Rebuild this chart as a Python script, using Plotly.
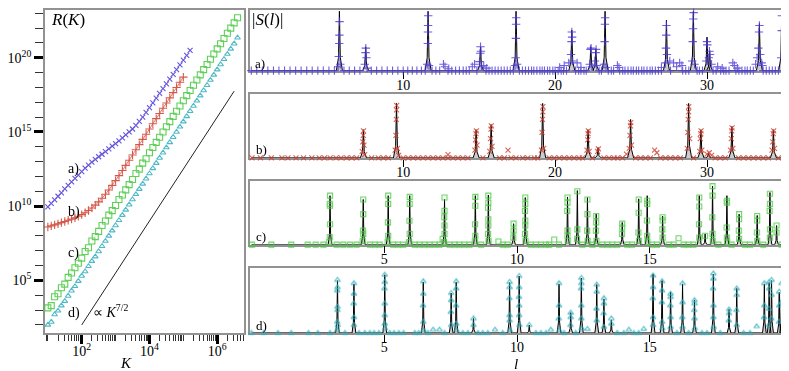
import plotly.graph_objects as go

# page body keeps its default 8px margin, so the figure is placed 8px in
OX, OY = 8, 8
FW, FH = 781, 363

# ---------------- left panel: R(K) (decimal logs) ----------------
logK = [1.0, 1.1, 1.2, 1.3, 1.4, 1.5, 1.6, 1.7, 1.8, 1.9,
        2.0, 2.1, 2.2, 2.3, 2.4, 2.5, 2.6, 2.7, 2.8, 2.9,
        3.0, 3.1, 3.2, 3.3, 3.4, 3.5, 3.6, 3.7, 3.8, 3.9,
        4.0, 4.1, 4.2, 4.3, 4.4, 4.5, 4.6, 4.7, 4.8, 4.9,
        5.0, 5.1, 5.2, 5.3, 5.4, 5.5, 5.6, 5.7, 5.8, 5.9,
        6.0, 6.1, 6.2, 6.3, 6.4, 6.5, 6.6]
logR_a = [9.95, 10.19, 10.43, 10.67, 10.9, 11.16, 11.4, 11.64, 11.88, 12.1,
          12.33, 12.56, 12.77, 12.97, 13.15, 13.33, 13.5, 13.68, 13.86, 14.04,
          14.22, 14.4, 14.6, 14.8, 15.0, 15.2, 15.45, 15.72, 16.0, 16.32,
          16.64, 16.96, 17.28, 17.6, 17.92, 18.24, 18.56, 18.88, 19.2, 19.52,
          19.84, 20.16, 20.5]
logR_b = [8.6, 8.67, 8.74, 8.81, 8.89, 8.97, 9.05, 9.13, 9.22, 9.32,
          9.43, 9.56, 9.71, 9.88, 10.07, 10.29, 10.53, 10.8, 11.09, 11.4,
          11.72, 12.06, 12.4, 12.75, 13.1, 13.45, 13.8, 14.15, 14.5, 14.85,
          15.2, 15.55, 15.9, 16.25, 16.6, 16.95, 17.3, 17.65, 18.0, 18.35,
          18.7]
logR_c = [3.15, 3.3, 3.9, 4.1, 4.5, 4.75, 5.2, 5.5, 5.85, 6.15,
          6.5, 6.95, 7.2, 7.65, 7.95, 8.3, 8.7, 9.0, 9.4, 9.7,
          10.05, 10.45, 10.75, 11.1, 11.45, 11.8, 12.2, 12.5, 12.9, 13.2,
          13.6, 13.95, 14.3, 14.65, 15.0, 15.35, 15.7, 16.05, 16.4, 16.75,
          17.1, 17.45, 17.8, 18.15, 18.5, 18.85, 19.2, 19.55, 19.9, 20.25,
          20.6, 20.95, 21.3, 21.65, 22.0, 22.35, 22.7]
logR_d = [2.0, 2.2, 2.7, 2.95, 3.3, 3.6, 3.95, 4.3, 4.6, 4.95,
          5.3, 5.6, 5.95, 6.3, 6.6, 6.95, 7.3, 7.65, 8.0, 8.35,
          8.7, 9.05, 9.4, 9.75, 10.1, 10.45, 10.8, 11.15, 11.5, 11.85,
          12.2, 12.55, 12.9, 13.25, 13.6, 13.95, 14.3, 14.65, 15.0, 15.35,
          15.7, 16.05, 16.4, 16.75, 17.1, 17.45, 17.8, 18.15, 18.5, 18.85,
          19.2, 19.55, 19.9, 20.25, 20.6, 20.95, 21.35]
# reference slope  ~ K^(7/2)
guide_logK = [2.0, 6.5]
guide_logR = [2.0, 17.75]

# ---------------- right panels: |S(l)| ----------------
# peaks of the black curve: (l, height as fraction of panel)
a_peaks = [(5.8, 0.92), (7.53, 0.37), (11.64, 0.92), (15.09, 0.37), (17.43, 0.92),
           (21.1, 0.63), (22.35, 0.37), (22.68, 0.34), (23.29, 0.92), (27.33, 0.78),
           (29.1, 0.92), (30.0, 0.52), (30.17, 0.3), (33.45, 0.73), (34.92, 0.91)]
b_peaks = [(7.38, 0.44), (9.56, 0.85), (14.8, 0.44), (15.79, 0.52), (19.18, 0.85),
           (22.17, 0.44), (22.83, 0.16), (24.97, 0.6), (28.79, 0.85), (29.6, 0.44),
           (30.1, 0.08), (31.64, 0.49), (34.37, 0.44)]
c_peaks = [(2.96, 0.77), (4.21, 0.71), (5.15, 0.77), (5.96, 0.77), (7.27, 0.71),
           (8.43, 0.77), (8.92, 0.78), (9.87, 0.33), (10.31, 0.74), (11.9, 0.75),
           (12.27, 0.85), (12.65, 0.74), (12.98, 0.48), (13.96, 0.35), (14.58, 0.72),
           (14.9, 0.77), (15.48, 0.45), (16.86, 0.77), (17.08, 0.17), (17.36, 0.92),
           (17.9, 0.77), (18.36, 0.48), (19.04, 0.46), (19.52, 0.82), (19.77, 0.3)]
d_peaks = [(3.24, 0.8), (3.86, 0.75), (5.02, 0.89), (6.47, 0.78), (7.52, 0.61),
           (7.71, 0.78), (8.36, 0.22), (9.72, 0.77), (10.08, 0.87), (10.46, 0.12),
           (11.58, 0.75), (12.02, 0.31), (12.42, 0.84), (13.0, 0.74), (13.27, 0.52),
           (13.55, 0.2), (15.12, 0.9), (15.46, 0.8), (15.78, 0.62), (16.23, 0.75),
           (16.68, 0.5), (17.39, 0.9), (17.98, 0.36), (18.27, 0.68), (19.31, 0.75),
           (19.49, 0.77), (19.58, 0.8), (19.87, 0.62), (19.96, 0.75)]

# numerical samples lying on the axis (S ~ 0)
a_floor = [0, 0.36, 0.73, 1.09, 1.46, 1.82, 2.19, 2.55, 2.92, 3.28, 3.65, 4.01, 4.38,
           4.74, 5.11, 5.47, 6.1, 6.45, 6.8, 7.15, 7.9, 8.25, 8.6, 8.95, 9.3, 9.65,
           10.0, 10.3, 10.6, 10.9, 11.2, 11.45, 11.9, 12.15, 12.4, 12.95, 13.2, 13.45,
           13.7, 13.95, 14.15, 14.35, 14.85, 15.45, 15.65, 15.85, 16.05, 16.25, 16.45,
           16.65, 16.85, 17.05, 17.25, 17.65, 17.85, 18.05, 18.25, 18.45, 18.6, 18.8,
           19.0, 19.15, 19.3, 19.5, 19.65, 19.85, 20.0, 20.2, 20.4, 20.55, 20.75, 21.35,
           21.55, 21.7, 21.9, 22.05, 22.9, 23.05, 23.5, 23.7, 23.85, 24.25, 24.45, 24.6,
           24.8, 25.0, 25.15, 25.35, 25.5, 25.7, 25.85, 26.05, 26.25, 26.4, 26.6, 26.8,
           27.0, 27.6, 28.4, 28.6, 28.8, 29.35, 29.5, 29.7, 30.4, 30.6, 30.9, 31.1,
           31.25, 31.45, 31.9, 32.1, 32.3, 32.5, 32.65, 32.85, 33.05, 33.7, 33.9, 34.1,
           34.3, 34.5, 34.7, 35.0]
b_floor = [0.05, 0.6, 1.32, 2.02, 2.41, 2.94, 3.44, 3.99, 4.47, 4.82, 5.19, 5.58, 5.91,
           6.28, 6.61, 6.94, 7.92, 8.36, 8.7, 9.02, 10.0, 10.33, 10.66, 10.98, 11.31,
           11.64, 11.97, 12.3, 12.62, 12.95, 13.28, 13.61, 13.93, 14.26, 15.25, 16.34,
           16.66, 17.1, 17.43, 17.87, 18.2, 18.63, 18.85, 19.61, 19.94, 20.27, 20.6,
           20.93, 21.25, 21.58, 21.8, 22.46, 23.22, 23.55, 23.88, 24.1, 24.43, 25.3,
           25.63, 25.95, 26.28, 26.94, 27.27, 27.59, 27.92, 28.25, 29.12, 30.54, 30.87,
           31.2, 32.07, 32.4, 32.73, 33.06, 33.38, 33.71, 34.04, 34.7, 35.02]
c_floor = [0.02, 0.75, 1.5, 2.12, 2.42, 2.71, 3.21, 3.46, 3.71, 3.96, 4.46, 4.65, 4.83,
           5.34, 5.52, 5.71, 6.15, 6.33, 6.52, 6.71, 6.9, 7.08, 7.46, 7.65, 7.83, 8.02,
           8.21, 8.65, 9.46, 9.65, 10.52, 10.71, 10.9, 11.09, 11.21, 11.58, 12.46, 12.84,
           13.21, 13.4, 13.58, 13.77, 14.15, 14.33, 15.08, 15.27, 15.71, 15.9, 16.27,
           16.46, 16.64, 17.58, 18.08, 18.58, 18.77, 19.27, 19.96]
d_floor = [0.0, 0.46, 1.0, 1.5, 2.15, 2.5, 2.96, 3.52, 4.05, 4.27, 4.46, 4.62, 4.8, 5.21,
           5.37, 5.55, 5.73, 6.15, 6.3, 6.65, 7.27, 7.96, 8.15, 8.53, 8.71, 8.9, 9.46,
           10.71, 10.9, 11.09, 11.77, 12.21, 13.77, 14.02, 14.4, 14.58, 16.02, 16.46,
           16.96, 17.15, 17.65, 18.53, 18.77]

# numerical samples above the axis: (l, |S|)
a_pts = [(5.72, 0.06), (5.76, 0.22), (5.79, 0.42), (5.8, 0.55), (5.81, 0.76), (5.86, 0.1),
         (7.47, 0.1), (7.52, 0.28), (7.54, 0.35), (7.58, 0.2), (7.62, 0.04),
         (11.58, 0.1), (11.62, 0.42), (11.63, 0.6), (11.64, 0.7), (11.65, 0.85), (11.7, 0.08),
         (12.65, 0.1), (12.75, 0.06), (13.0, 0.03), (14.55, 0.06), (14.7, 0.1),
         (15.02, 0.14), (15.07, 0.27), (15.09, 0.37), (15.12, 0.3), (15.16, 0.06),
         (15.3, 0.08), (15.5, 0.04),
         (17.36, 0.08), (17.4, 0.2), (17.42, 0.5), (17.43, 0.72), (17.44, 0.82), (17.5, 0.1),
         (20.3, 0.05), (20.6, 0.08), (20.9, 0.12), (21.05, 0.25), (21.08, 0.45), (21.1, 0.6),
         (21.12, 0.52), (21.15, 0.15), (21.45, 0.12), (21.7, 0.05),
         (22.28, 0.1), (22.33, 0.33), (22.37, 0.35), (22.42, 0.06),
         (22.62, 0.15), (22.67, 0.28), (22.7, 0.33), (22.74, 0.08),
         (23.22, 0.1), (23.26, 0.45), (23.28, 0.72), (23.29, 0.82), (23.35, 0.05),
         (24.1, 0.08), (24.2, 0.05), (27.0, 0.05),
         (27.26, 0.12), (27.3, 0.35), (27.32, 0.55), (27.33, 0.7), (27.36, 0.25),
         (27.55, 0.15), (27.8, 0.12), (28.0, 0.06), (28.2, 0.12), (28.35, 0.08),
         (29.02, 0.15), (29.06, 0.45), (29.08, 0.65), (29.1, 0.8), (29.12, 0.9), (29.18, 0.1),
         (29.95, 0.15), (30.0, 0.45), (30.02, 0.4), (30.12, 0.2), (30.16, 0.3), (30.2, 0.25),
         (30.3, 0.1), (30.7, 0.06), (31.0, 0.04), (31.7, 0.12), (31.8, 0.08), (32.0, 0.04),
         (33.2, 0.1), (33.3, 0.2), (33.38, 0.35), (33.42, 0.6), (33.45, 0.7), (33.5, 0.25),
         (33.6, 0.12), (33.65, 0.08), (34.88, 0.2), (34.92, 0.62), (34.93, 0.85)]
b_pts = [(7.3, 0.1), (7.34, 0.25), (7.37, 0.35), (7.39, 0.42), (7.42, 0.2), (7.46, 0.05),
         (9.47, 0.12), (9.52, 0.35), (9.55, 0.6), (9.56, 0.75), (9.57, 0.82), (9.62, 0.15),
         (9.7, 0.04), (12.95, 0.05),
         (14.72, 0.12), (14.76, 0.28), (14.79, 0.38), (14.82, 0.42), (14.86, 0.2),
         (15.7, 0.1), (15.75, 0.3), (15.78, 0.45), (15.8, 0.5), (15.85, 0.18), (16.9, 0.12),
         (19.1, 0.12), (19.14, 0.4), (19.17, 0.6), (19.19, 0.72), (19.2, 0.8), (19.25, 0.15),
         (22.1, 0.12), (22.15, 0.28), (22.17, 0.38), (22.19, 0.42), (22.24, 0.1),
         (22.8, 0.1), (22.85, 0.14),
         (24.7, 0.06), (24.88, 0.15), (24.93, 0.35), (24.96, 0.5), (24.98, 0.55), (25.03, 0.2),
         (26.55, 0.12), (26.7, 0.08),
         (28.7, 0.15), (28.74, 0.4), (28.77, 0.6), (28.79, 0.72), (28.8, 0.8), (28.86, 0.3),
         (29.52, 0.1), (29.56, 0.3), (29.59, 0.38), (29.61, 0.42), (29.66, 0.12),
         (30.0, 0.06), (30.15, 0.08), (30.3, 0.04),
         (31.55, 0.12), (31.6, 0.3), (31.63, 0.42), (31.65, 0.47), (31.7, 0.15),
         (34.28, 0.12), (34.33, 0.25), (34.36, 0.38), (34.39, 0.42), (34.44, 0.15)]
c_pts = [(2.96, 0.77), (2.95, 0.64), (2.96, 0.61), (2.96, 0.32), (2.95, 0.12), (2.93, 0.04),
         (4.21, 0.71), (4.21, 0.48), (4.2, 0.22), (4.21, 0.17), (4.19, 0.06),
         (5.15, 0.77), (5.15, 0.64), (5.14, 0.35), (5.15, 0.14), (5.13, 0.04),
         (5.96, 0.75), (5.96, 0.64), (5.95, 0.375), (5.96, 0.17), (5.94, 0.04),
         (7.2, 0.09), (7.27, 0.74), (7.27, 0.53), (7.26, 0.43), (7.27, 0.3), (7.27, 0.17),
         (7.25, 0.04),
         (8.43, 0.75), (8.43, 0.61), (8.42, 0.32), (8.43, 0.14), (8.41, 0.05),
         (8.92, 0.77), (8.92, 0.66), (8.91, 0.58), (8.92, 0.4), (8.92, 0.3), (8.91, 0.17),
         (8.93, 0.06), (9.3, 0.05),
         (9.87, 0.33), (9.87, 0.22), (9.86, 0.11),
         (10.31, 0.74), (10.31, 0.64), (10.3, 0.53), (10.31, 0.38), (10.31, 0.3),
         (10.3, 0.17), (10.32, 0.06), (11.4, 0.08),
         (11.9, 0.74), (11.9, 0.66), (11.89, 0.53), (11.9, 0.22), (11.9, 0.14), (11.91, 0.06),
         (12.27, 0.84), (12.27, 0.24), (12.26, 0.09),
         (12.65, 0.71), (12.65, 0.48), (12.64, 0.22), (12.66, 0.06),
         (12.98, 0.45), (12.98, 0.35), (12.97, 0.22), (12.99, 0.06),
         (13.96, 0.33), (13.96, 0.27), (13.95, 0.17),
         (14.58, 0.71), (14.58, 0.5), (14.57, 0.19), (14.59, 0.06),
         (14.9, 0.69), (14.9, 0.64), (14.89, 0.38), (14.9, 0.14), (14.91, 0.04),
         (15.48, 0.43), (15.48, 0.38), (15.47, 0.24), (15.48, 0.11), (16.08, 0.1),
         (16.86, 0.74), (16.86, 0.6), (16.85, 0.32), (16.86, 0.11), (17.08, 0.14),
         (17.36, 0.92), (17.36, 0.77), (17.35, 0.43), (17.36, 0.17), (17.37, 0.06),
         (17.9, 0.69), (17.9, 0.66), (17.89, 0.27), (17.9, 0.11), (17.91, 0.04),
         (18.36, 0.48), (18.36, 0.4), (18.35, 0.22), (18.36, 0.09),
         (19.04, 0.45), (19.04, 0.38), (19.03, 0.19), (19.04, 0.06),
         (19.52, 0.8), (19.52, 0.64), (19.51, 0.53), (19.52, 0.24), (19.52, 0.11),
         (19.77, 0.3), (19.77, 0.19)]
d_pts = [(3.24, 0.81), (3.24, 0.7), (3.23, 0.65), (3.24, 0.4), (3.24, 0.35), (3.23, 0.17),
         (3.25, 0.12), (3.22, 0.04),
         (3.86, 0.76), (3.86, 0.6), (3.85, 0.45), (3.86, 0.24), (3.86, 0.12),
         (5.02, 0.89), (5.02, 0.78), (5.01, 0.68), (5.02, 0.45), (5.02, 0.27), (5.02, 0.14),
         (5.03, 0.07),
         (6.47, 0.79), (6.47, 0.6), (6.46, 0.42), (6.47, 0.17), (6.48, 0.04),
         (6.84, 0.05), (7.08, 0.05),
         (7.52, 0.61), (7.52, 0.5), (7.51, 0.32), (7.52, 0.12),
         (7.71, 0.79), (7.71, 0.68), (7.7, 0.42), (7.71, 0.14), (7.72, 0.04),
         (8.36, 0.22), (8.36, 0.12), (9.17, 0.05),
         (9.72, 0.78), (9.72, 0.7), (9.71, 0.53), (9.72, 0.27), (9.72, 0.19), (9.73, 0.04),
         (10.08, 0.87), (10.08, 0.7), (10.07, 0.55), (10.08, 0.42), (10.08, 0.27),
         (10.09, 0.12), (10.46, 0.12), (11.27, 0.05),
         (11.58, 0.76), (11.58, 0.42), (11.57, 0.22), (11.59, 0.04),
         (12.02, 0.31), (12.02, 0.24), (12.01, 0.12),
         (12.42, 0.84), (12.42, 0.76), (12.41, 0.68), (12.42, 0.42), (12.42, 0.22),
         (12.43, 0.07), (12.65, 0.06),
         (13.0, 0.74), (13.0, 0.63), (12.99, 0.37), (13.0, 0.19),
         (13.27, 0.53), (13.27, 0.45), (13.26, 0.3), (13.27, 0.09),
         (13.55, 0.22), (13.55, 0.14), (14.21, 0.05), (14.77, 0.06),
         (15.12, 0.88), (15.12, 0.7), (15.11, 0.53), (15.12, 0.24), (15.12, 0.12),
         (15.46, 0.79), (15.46, 0.65), (15.45, 0.47), (15.46, 0.17), (15.47, 0.07),
         (15.78, 0.6), (15.78, 0.55), (15.77, 0.42), (15.78, 0.24), (15.78, 0.09),
         (16.23, 0.76), (16.23, 0.47), (16.22, 0.24), (16.23, 0.09),
         (16.68, 0.5), (16.68, 0.45), (16.67, 0.35), (16.68, 0.22), (16.69, 0.07),
         (17.39, 0.91), (17.39, 0.83), (17.38, 0.68), (17.39, 0.42), (17.39, 0.24),
         (17.4, 0.09),
         (17.98, 0.36), (17.98, 0.3), (17.97, 0.19),
         (18.27, 0.68), (18.27, 0.58), (18.26, 0.35), (18.27, 0.12), (19.02, 0.1),
         (19.31, 0.76), (19.31, 0.42), (19.3, 0.24),
         (19.49, 0.78), (19.49, 0.68), (19.48, 0.37), (19.49, 0.12),
         (19.58, 0.81), (19.58, 0.58), (19.57, 0.22),
         (19.87, 0.63), (19.87, 0.42), (19.86, 0.17),
         (19.96, 0.76), (19.96, 0.47)]

SERIF = "Liberation Serif"
BLUE, RED, GREEN, TEAL = "#4a38d8", "#d03c2c", "#45c83c", "#30aebb"
FRAME = "#929292"


def px(x):
    return (x - OX) / FW


def py(y):
    return min(1.0, max(0.0, 1 - (y - OY) / FH))


def pow10(vals):
    return [10.0 ** v for v in vals]


fig = go.Figure()

# ---- left panel traces
for vals, sym, col, size, mode in [(logR_a, "x-thin", BLUE, 5, "markers"),
                                   (logR_b, "cross-thin", RED, 6, "lines+markers"),
                                   (logR_c, "square-open", GREEN, 6, "markers"),
                                   (logR_d, "triangle-up-open", TEAL, 5, "markers")]:
    fig.add_trace(go.Scatter(x=pow10(logK[:len(vals)]), y=pow10(vals), mode=mode,
                             xaxis="x", yaxis="y", cliponaxis=False, opacity=0.85,
                             line=dict(color=col, width=0.8),
                             marker=dict(symbol=sym, size=size, color=col,
                                         line=dict(color=col, width=1.1))))

fig.add_trace(go.Scatter(x=pow10(guide_logK), y=pow10(guide_logR),
                         mode="lines", xaxis="x", yaxis="y",
                         line=dict(color="#222222", width=1)))


# ---- right panels
def spike_line(peaks, lo, hi, w):
    xs, ys = [lo], [0]
    for l, h in sorted(peaks):
        xs += [l - w, l - w * 0.3, l, l + w * 0.3, l + w]
        ys += [0, h * 0.22, h, h * 0.22, 0]
    xs.append(hi)
    ys.append(0)
    return xs, ys


panels = [(2, a_peaks, a_floor, a_pts, "cross-thin", BLUE, 6, 35.07, 0.2),
          (3, b_peaks, b_floor, b_pts, "x-thin", RED, 5, 35.07, 0.2),
          (4, c_peaks, c_floor, c_pts, "square-open", GREEN, 5, 20.05, 0.07),
          (5, d_peaks, d_floor, d_pts, "triangle-up-open", TEAL, 5, 20.05, 0.07)]

for n, peaks, floor, pts, sym, col, size, hi, w in panels:
    xs, ys = spike_line(peaks, 0, hi, w)
    fig.add_trace(go.Scatter(x=xs, y=ys, mode="lines", xaxis="x%d" % n, yaxis="y%d" % n,
                             fill="tozeroy", fillcolor="rgba(110,110,110,0.35)",
                             line=dict(color="black", width=1)))
    mx = floor + [p[0] for p in pts]
    my = [0.0] * len(floor) + [p[1] for p in pts]
    fig.add_trace(go.Scatter(x=mx, y=my, mode="markers", xaxis="x%d" % n, yaxis="y%d" % n,
                             cliponaxis=False, opacity=0.8,
                             marker=dict(symbol=sym, size=size, color=col,
                                         line=dict(color=col, width=1.1))))

# ---- axes
frame = dict(showgrid=False, zeroline=False, showline=True, mirror=True,
             linecolor=FRAME, linewidth=1.5, layer="below traces")

x_minor = [float(m) * 10.0 ** e for e in range(0, 7) for m in range(1, 10)
           if not (m == 1 and e in (2, 4, 6))]
y_minor = [10.0 ** e for e in range(1, 24) if e % 5 != 0]

# the top edge of the frames (y = 4 px) sits in the page margin, so the top is
# clipped to 8 px and the upper range end is trimmed to keep the same scale
layout_axes = dict(
    xaxis=dict(frame, domain=[px(42), px(242)], type="log", range=[0.912, 6.794],
               anchor="y", tickvals=[1e2, 1e4, 1e6],
               ticktext=["10<sup>2</sup>", "10<sup>4</sup>", "10<sup>6</sup>"],
               ticks="outside", ticklen=9, tickwidth=3, tickcolor="black",
               ticklabelstandoff=-5,
               tickfont=dict(family=SERIF, size=14, color="black"),
               minor=dict(tickmode="array", tickvals=x_minor, ticks="outside",
                          ticklen=6, tickwidth=1, tickcolor="#333333")),
    yaxis=dict(frame, domain=[py(333), py(8)], type="log", range=[1.44, 23.22],
               anchor="x", tickvals=[1e5, 1e10, 1e15, 1e20],
               ticktext=["10<sup>5</sup>", "10<sup>10</sup>", "10<sup>15</sup>", "10<sup>20</sup>"],
               ticks="outside", ticklen=9, tickwidth=3, tickcolor="black",
               tickfont=dict(family=SERIF, size=14, color="black"),
               minor=dict(tickmode="array", tickvals=y_minor, ticks="outside",
                          ticklen=8, tickwidth=1.2, tickcolor="#333333")),
)

right_y = [(8, 69, 0.94), (92.3, 156.7, 1.0), (180, 244, 1.0), (267, 332.7, 1.0)]
for i, (top, bot, ymax) in enumerate(right_y):
    n = i + 2
    wide = n <= 3
    layout_axes["xaxis%d" % n] = dict(
        frame, domain=[px(248), px(784)], anchor="y%d" % n,
        range=[-0.08, 35.07] if wide else [-0.05, 20.05],
        tickvals=[10, 20, 30] if wide else [5, 10, 15],
        ticks="outside", ticklen=7, tickwidth=1, tickcolor="black",
        ticklabelstandoff=-6,
        tickfont=dict(family=SERIF, size=14, color="black"))
    layout_axes["yaxis%d" % n] = dict(
        frame, domain=[py(bot), py(top)], anchor="x%d" % n,
        range=[0, ymax], showticklabels=False, ticks="")


def note(text, x, y, size=15, xanchor="left"):
    return dict(text=text, x=px(x), y=py(y), xref="paper", yref="paper",
                xanchor=xanchor, yanchor="middle", showarrow=False,
                font=dict(family=SERIF, size=size, color="black"))


annotations = [
    note("<i>R</i>(<i>K</i>)", 46, 18, 17),
    note("a)", 63, 168, 14), note("b)", 63, 211, 14),
    note("c)", 63, 252, 14), note("d)", 63, 313, 14),
    note("∝ <i>K</i><sup>7/2</sup>", 88, 311, 14),
    note("<i>K</i>", 123, 363, 15, "center"),
    note("|<i>S</i>(<i>l</i>)|", 248, 18, 17),
    note("a)", 251, 62, 13), note("b)", 252, 148, 13),
    note("c)", 252, 236, 13), note("d)", 252, 325, 13),
    note("<i>l</i>", 515, 364, 15, "center"),
]

fig.update_layout(width=FW, height=FH, margin=dict(l=0, r=0, t=0, b=0),
                  paper_bgcolor="white", plot_bgcolor="white", showlegend=False,
                  annotations=annotations, **layout_axes)

fig.write_html("out.html")
